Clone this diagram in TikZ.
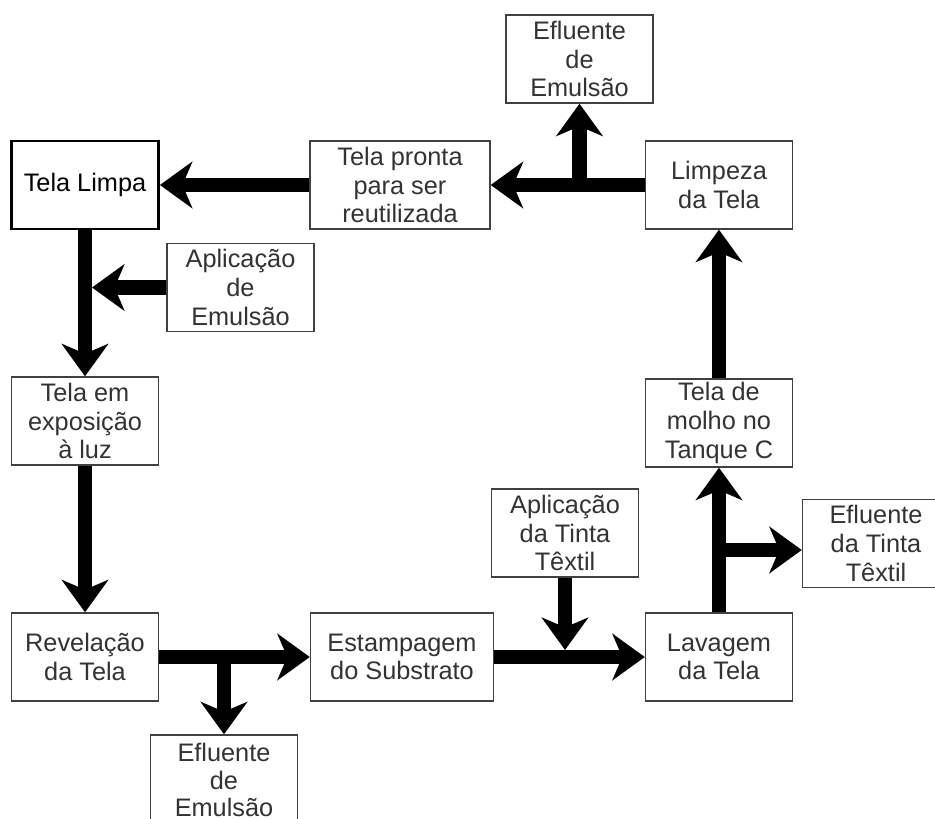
\documentclass[tikz,border=0pt]{standalone}
\usepackage{fontspec}
\setmainfont{Liberation Sans}
\usetikzlibrary{arrows.meta}

\begin{document}
\begin{tikzpicture}[x=0.025cm,y=-0.025cm,
  font=\fontsize{18}{20.5}\selectfont,
  box/.style={draw=black!75,line width=1pt,fill=white,text=black!80,
    align=center,inner sep=1pt,minimum width=3.675cm,minimum height=2.2cm},
  flow/.style={line width=10pt,
    -{Stealth[length=23pt,width=33pt,inset=7pt]}}]
\path[use as bounding box] (0,0) rectangle (935,819);
% boxes, top row
\node[box] (efTop) at (579.5,59) {Efluente\\de\\Emulsão};
\node[box,draw=black,line width=2pt,text=black] (limpa) at (85,185)
      {Tela Limpa};
\node[box,minimum width=4.5cm] (pronta) at (400,185)
      {Tela pronta\\para ser\\reutilizada};
\node[box] (limpeza) at (719,185) {Limpeza\\da Tela};
% middle
\node[box] (aplEmul) at (240.5,287.5) {Aplicação\\de\\Emulsão};
\node[box] (expos) at (85,421) {Tela em\\exposição\\à luz};
\node[box] (molho) at (719,423) {Tela de\\molho no\\Tanque C};
\node[box] (aplTinta) at (565,533) {Aplicação\\da Tinta\\Têxtil};
\node[box] (efTinta) at (876,543.5) {Efluente\\da Tinta\\Têxtil};
% bottom row
\node[box] (revel) at (85,657) {Revelação\\da Tela};
\node[box,minimum width=4.575cm] (estamp) at (402,657)
      {Estampagem\\do Substrato};
\node[box] (lavagem) at (719,657) {Lavagem\\da Tela};
\node[box,font=\fontsize{18}{19.5}\selectfont,text depth=0pt,
      minimum height=2.25cm] (efBot) at (224,780) {Efluente\\de\\Emulsão};

% junctions
\coordinate (jTop) at (efTop.south |- limpeza.west);
\coordinate (jEmul) at (limpa.south |- aplEmul.west);
\coordinate (jBot) at (efBot.north |- revel.east);
\coordinate (jTinta) at (aplTinta.south |- estamp.east);
\coordinate (jLav) at (719,550);

\draw[flow] (limpeza.west) -- (pronta.east);
\draw[flow] (jTop) -- (efTop.south);
\draw[flow] (pronta.west) -- (limpa.east);
\draw[flow] (limpa.south) -- (expos.north);
\draw[flow,shorten >=5pt] (aplEmul.west) -- (jEmul);
\draw[flow] (expos.south) -- (revel.north);
\draw[flow] (revel.east) -- (estamp.west);
\draw[flow] (jBot) -- (efBot.north);
\draw[flow] (estamp.east) -- (lavagem.west);
\draw[flow,shorten >=5pt] (aplTinta.south) -- (jTinta);
\draw[flow] (lavagem.north) -- (molho.south);
\draw[flow] (jLav) -- (jLav -| efTinta.west);
\draw[flow] (molho.north) -- (limpeza.south);
\end{tikzpicture}
\end{document}
